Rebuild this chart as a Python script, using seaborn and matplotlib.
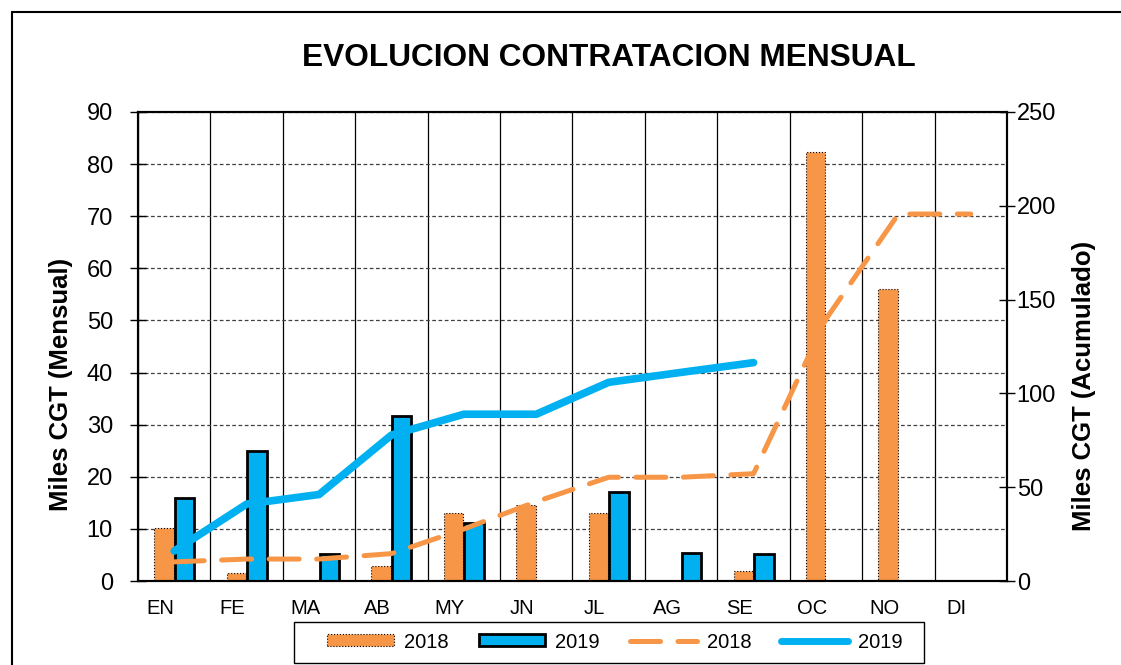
import matplotlib
matplotlib.use("Agg")
import matplotlib.pyplot as plt
from matplotlib.patches import Patch, Rectangle
from matplotlib.lines import Line2D
from matplotlib.transforms import ScaledTranslation
import numpy as np
import pandas as pd
import seaborn as sns

# datos (miles CGT)
meses = ["EN", "FE", "MA", "AB", "MY", "JN", "JL", "AG", "SE", "OC", "NO", "DI"]
mensual_2018 = [10.2, 1.5, 0, 2.9, 13.1, 14.6, 13.0, 0, 1.9, 82.4, 56.0, 0]
mensual_2019 = [16.0, 25.0, 5.1, 31.7, 11.1, 0, 17.0, 5.3, 5.2, np.nan, np.nan, np.nan]
acum_2018 = [10.2, 11.7, 11.7, 14.6, 27.7, 42.3, 55.3, 55.3, 57.2, 139.6, 195.6, 195.6]
acum_2019 = [16.0, 41.0, 46.1, 77.8, 88.9, 88.9, 105.9, 111.2, 116.4]

naranja = "#F79646"
azul = "#00B0F0"

sns.set_style("white")
plt.rcParams["font.family"] = ["Liberation Sans", "DejaVu Sans"]
plt.rcParams["text.color"] = "black"
plt.rcParams["axes.labelcolor"] = "black"
plt.rcParams["xtick.color"] = "black"
plt.rcParams["ytick.color"] = "black"

df = pd.DataFrame({
    "mes": meses * 2,
    "anio": ["2018"] * len(meses) + ["2019"] * len(meses),
    "valor": mensual_2018 + mensual_2019,
})

fig = plt.figure(figsize=(11.21, 6.65), dpi=100)
ax = fig.add_axes([0.1231, 0.1263, 0.7752, 0.7053])

sns.barplot(data=df, x="mes", y="valor", hue="anio", order=meses,
            palette={"2018": naranja, "2019": azul}, saturation=1,
            width=0.57, gap=0.06, legend=False, ax=ax)

# bordes de las barras
for patch in ax.containers[0]:
    patch.set_edgecolor("black")
    patch.set_linestyle(":")
    patch.set_linewidth(0.8)
for patch in ax.containers[1]:
    patch.set_edgecolor("black")
    patch.set_linewidth(2)

ax.set_ylim(0, 90)
ax.set_yticks(np.arange(0, 91, 10))
ax.set_xticks(np.arange(-0.5, len(meses), 1), minor=True)
ax.set_axisbelow(True)
ax.yaxis.grid(True, linestyle=(0, (3, 2)), color="#404040", lw=0.9)
ax.xaxis.grid(True, which="minor", color="black", lw=0.9)
ax.xaxis.grid(False, which="major")
ax.tick_params(axis="x", which="major", length=0, labelsize=14.5, pad=13)
ax.tick_params(axis="x", which="minor", length=10, width=1, direction="inout")
ax.tick_params(axis="y", length=12, width=1, direction="inout", labelsize=17, pad=12, left=True)
# las etiquetas de mes van algo a la izquierda del centro, como en el original
for lbl in ax.get_xticklabels():
    lbl.set_transform(lbl.get_transform() + ScaledTranslation(-0.14, 0, fig.dpi_scale_trans))
ax.set_xlabel("")
ax.set_ylabel("Miles CGT (Mensual)", fontsize=18.5, fontweight="bold")
ax.yaxis.set_label_coords((73 - 138) / 869, (581 - 384) / 469)
for s in ax.spines.values():
    s.set_color("black")
    s.set_linewidth(1.5)

# acumulados en el eje derecho
ax2 = ax.twinx()
sns.lineplot(x=np.arange(len(acum_2018)), y=acum_2018, color=naranja, lw=3.6, ax=ax2)
ax2.lines[-1].set_dashes((6, 3.5))
ax2.lines[-1].set_dash_capstyle("round")
sns.lineplot(x=np.arange(len(acum_2019)), y=acum_2019, color=azul, lw=5.5, ax=ax2)
ax2.lines[-1].set_solid_capstyle("round")
ax2.set_ylim(0, 250)
ax2.set_yticks(np.arange(0, 251, 50))
ax2.tick_params(axis="y", direction="inout", length=12, width=1, labelsize=17, pad=1)
ax2.set_ylabel("Miles CGT (Acumulado)", fontsize=18.5, fontweight="bold")
ax2.yaxis.set_label_coords((1072 - 138) / 869, (581 - 386) / 469)
for s in ax2.spines.values():
    s.set_color("black")
    s.set_linewidth(1.5)
ax2.grid(False)

ax.set_xlim(-0.5, len(meses) - 0.5)

fig.text(609 / 1121, 1 - 58 / 665, "EVOLUCION CONTRATACION MENSUAL", ha="center", va="center",
         fontsize=22.8, fontweight="bold")

handles = [
    Patch(facecolor=naranja, edgecolor="black", linestyle=":", linewidth=0.8),
    Patch(facecolor=azul, edgecolor="black", linewidth=2),
    Line2D([], [], color=naranja, lw=3.6, dashes=(6, 3.5), dash_capstyle="round"),
    Line2D([], [], color=azul, lw=5, solid_capstyle="round"),
]
leg = fig.legend(handles, ["2018", "2019", "2018", "2019"], ncol=4, loc="center",
                 bbox_to_anchor=(615 / 1121, 1 - 642 / 665), fontsize=14.5, frameon=False,
                 handlelength=3.3, handleheight=0.55, columnspacing=1.5,
                 borderpad=0.3, handletextpad=0.5, borderaxespad=0)
# caja de la leyenda
fig.add_artist(Rectangle((294 / 1121, 1 - 663 / 665), 630 / 1121, 41 / 665, fill=False,
                         edgecolor="black", lw=1, transform=fig.transFigure))

# marco exterior
fig.add_artist(Line2D([12 / 1121, 1], [1 - 12 / 665] * 2, color="black", lw=1.5, transform=fig.transFigure))
fig.add_artist(Line2D([12 / 1121] * 2, [0, 1 - 12 / 665], color="black", lw=1.5, transform=fig.transFigure))

fig.savefig("out.png", dpi=100)
